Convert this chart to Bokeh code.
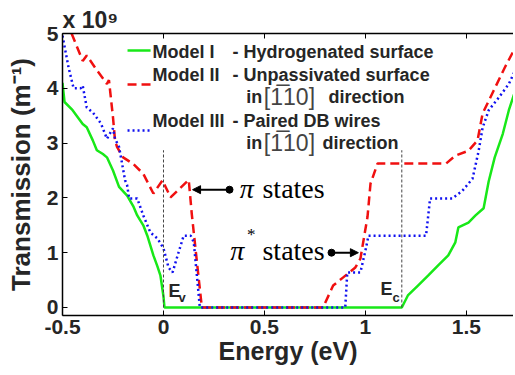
from bokeh.plotting import figure
from bokeh.models import Label, Arrow, NormalHead, LinearAxis, FixedTicker, Range1d, Title
from bokeh.embed import file_html
from bokeh.resources import INLINE

# ---- data ----
green_E = [-0.5, -0.49, -0.45, -0.43, -0.40, -0.38, -0.35, -0.33, -0.30, -0.28, -0.25, -0.22,
           -0.18, -0.15, -0.13, -0.10, -0.08, -0.05, -0.03, -0.015, 0.0, 0.005,
           1.18, 1.21, 1.26, 1.31, 1.36, 1.41, 1.445, 1.46, 1.51, 1.545, 1.585, 1.61,
           1.64, 1.68, 1.71, 1.75]
green_T = [4.1, 3.75, 3.6, 3.5, 3.35, 3.29, 3.05, 2.87, 2.8, 2.74, 2.5, 2.2,
           2.04, 1.85, 1.68, 1.5, 1.31, 0.95, 0.75, 0.58, 0.2, 0.0,
           0.0, 0.22, 0.4, 0.58, 0.77, 0.95, 1.19, 1.46, 1.55, 1.68, 1.81, 2.3,
           2.74, 3.17, 3.6, 4.05]

red_E = [-0.455, -0.40, -0.38, -0.33, -0.28, -0.27, -0.25, -0.24, -0.23, -0.20, -0.15, -0.10,
         -0.05, -0.005, 0.035, 0.08, 0.125, 0.14, 0.17, 0.19,
         0.79, 0.84, 0.89, 0.95, 0.975, 1.01, 1.025, 1.06, 1.40, 1.445, 1.51, 1.555,
         1.58, 1.635, 1.69, 1.75]
red_T = [5.0, 4.5, 4.6, 4.33, 4.08, 4.15, 3.47, 3.05, 2.93, 2.74, 2.62, 2.44,
         2.08, 2.32, 2.01, 2.17, 2.33, 1.71, 0.68, 0.0,
         0.0, 0.4, 0.55, 0.73, 0.89, 1.65, 2.26, 2.63, 2.63, 2.77, 2.86, 3.05,
         3.54, 3.96, 4.38, 4.8]

blue_E = [-0.5, -0.47, -0.445, -0.41, -0.40, -0.38, -0.35, -0.31, -0.28, -0.25, -0.24, -0.22,
          -0.19, -0.18, -0.17, -0.13, -0.10, -0.065, -0.03, 0.0, 0.025, 0.045, 0.07, 0.10,
          0.135, 0.15, 0.17, 0.18,
          0.90, 0.91, 0.975, 1.0, 1.015, 1.30, 1.32, 1.33, 1.43, 1.48, 1.53, 1.56,
          1.58, 1.61, 1.66, 1.71, 1.75]
blue_T = [4.96, 4.38, 4.0, 4.0, 4.05, 3.65, 3.56, 3.36, 3.08, 3.27, 3.08, 2.93,
          2.32, 2.23, 1.99, 1.99, 1.68, 1.37, 1.26, 1.08, 0.73, 0.64, 0.95, 1.31,
          1.31, 1.19, 0.4, 0.0,
          0.0, 0.64, 0.64, 1.04, 1.31, 1.31, 1.99, 1.99, 1.99, 2.13, 2.35, 2.85,
          3.28, 3.6, 3.83, 4.08, 4.4]

band_edges = [0.0, 1.18]          # Ev, Ec
band_line_top = [2.87, 2.87]
band_line_bottom = [0.0, 0.0]

x_ticks = [-0.5, 0, 0.5, 1, 1.5]
x_tick_labels = ["-0.5", "0", "0.5", "1", "1.5"]
y_ticks = [0, 1, 2, 3, 4, 5]
y_tick_labels = ["0", "1", "2", "3", "4", "5"]

legend_names = ["Model I", "Model II", "Model III"]
legend_desc = ["- Hydrogenated surface", "- Unpassivated surface", "- Paired DB wires"]

# ---- styling ----
FONT = "Liberation Sans"
SERIF = "Liberation Serif"
TXT = "#262626"
GREEN = "#18e818"
RED = "#f01010"
BLUE = "#1010f0"

p = figure(frame_width=451, frame_height=282, output_backend="svg", toolbar_location=None,
           x_range=Range1d(-0.5, 1.733), y_range=Range1d(-0.146, 5.0),
           min_border_left=62, min_border_right=0, min_border_top=33, min_border_bottom=58,
           x_axis_label="Energy (eV)", y_axis_label="Transmission (m\u207b\u00b9)",
           title=Title(text="x 10\u2079", align="left", text_font=FONT,
                       text_font_size="23px", text_font_style="bold",
                       text_color=TXT, standoff=1, offset=0))
p.grid.visible = False
p.outline_line_color = None
p.background_fill_color = "white"
p.border_fill_color = "white"

for ax in (p.xaxis[0], p.yaxis[0]):
    ax.axis_line_color = "black"
    ax.axis_line_width = 1.5
    ax.major_tick_in = 5
    ax.major_tick_out = 0
    ax.minor_tick_line_color = None
    ax.major_tick_line_color = "black"
    ax.major_label_text_font = FONT
    ax.major_label_text_font_style = "bold"
    ax.major_label_text_font_size = "21px"
    ax.major_label_text_color = TXT
    ax.axis_label_text_font = FONT
    ax.axis_label_text_font_style = "bold"
    ax.axis_label_text_color = TXT

p.xaxis[0].ticker = FixedTicker(ticks=x_ticks)
p.xaxis[0].major_label_overrides = dict(zip(x_ticks, x_tick_labels))
p.yaxis[0].ticker = FixedTicker(ticks=y_ticks)
p.yaxis[0].major_label_overrides = dict(zip(y_ticks, y_tick_labels))
p.xaxis[0].axis_label_text_font_size = "25px"
p.yaxis[0].axis_label_text_font_size = "26px"
p.xaxis[0].major_label_standoff = 4
p.xaxis[0].axis_label_standoff = 0
p.yaxis[0].major_label_standoff = 4
p.yaxis[0].axis_label_standoff = 8

top = LinearAxis(ticker=FixedTicker(ticks=x_ticks), major_label_text_font_size="1px",
                 major_label_text_color=None,
                 major_tick_in=5, major_tick_out=0, minor_tick_line_color=None,
                 axis_line_width=1.5, major_label_standoff=0)
p.add_layout(top, "above")

# ---- curves ----
p.line(green_E, green_T, line_color=GREEN, line_width=2.5)
p.line(red_E, red_T, line_color=RED, line_width=2.5, line_dash="9 5")
p.line(blue_E, blue_T, line_color=BLUE, line_width=2.5, line_dash="2 3")

# band edge markers
p.segment(x0=band_edges, y0=band_line_bottom, x1=band_edges, y1=band_line_top,
          line_color="#444444", line_width=1, line_dash="3 2")

def lab(x, y, t, size, style="bold", font=FONT, color=TXT):
    p.add_layout(Label(x=x, y=y, text=t, text_font=font, text_font_size=size,
                       text_font_style=style, text_color=color,
                       text_align="left", text_baseline="middle"))

# legend
leg_y = [4.67, 4.25, 3.41]
samp_y = [4.69, 4.07, 3.23]
styles = [dict(line_color=GREEN), dict(line_color=RED, line_dash="9 5"),
          dict(line_color=BLUE, line_dash="2 3")]
for yy, sy, name, desc, st in zip(leg_y, samp_y, legend_names, legend_desc, styles):
    p.line([-0.178, -0.064], [sy, sy], line_width=2.5, **st)
    lab(-0.054, yy, name, "18px")
    lab(0.342, yy, desc, "18px")
for yy, dx in ((3.85, 0.817), (3.01, 0.787)):
    lab(0.41, yy, "in", "18px")
    lab(0.497, yy, "[1\u030510]", "23px", style="normal", color="#444444")
    lab(dx, yy, "direction", "18px")

# pi states annotations
lab(0.378, 2.17, "\u03c0", "28px", style="italic", font=SERIF, color="black")
lab(0.49, 2.17, "states", "28px", style="normal", font=SERIF, color="black")
lab(0.33, 1.04, "\u03c0", "28px", style="italic", font=SERIF, color="black")
lab(0.413, 1.33, "*", "17px", style="normal", font=SERIF, color="black")
lab(0.49, 1.04, "states", "28px", style="normal", font=SERIF, color="black")

p.add_layout(Arrow(end=NormalHead(size=8, fill_color="black", line_color="black"),
                   x_start=0.327, y_start=2.15, x_end=0.144, y_end=2.15,
                   line_width=2, line_color="black"))
p.add_layout(Arrow(end=NormalHead(size=8, fill_color="black", line_color="black"),
                   x_start=0.832, y_start=1.0, x_end=0.965, y_end=1.0,
                   line_width=2, line_color="black"))
p.scatter([0.327, 0.832], [2.15, 1.0], size=7, color="black")

# Ev / Ec
lab(0.025, 0.31, "E", "18px")
lab(0.074, 0.19, "v", "13px")
lab(1.074, 0.34, "E", "18px")
lab(1.134, 0.18, "c", "13px")

open("out.html", "w").write(file_html(p, INLINE))
